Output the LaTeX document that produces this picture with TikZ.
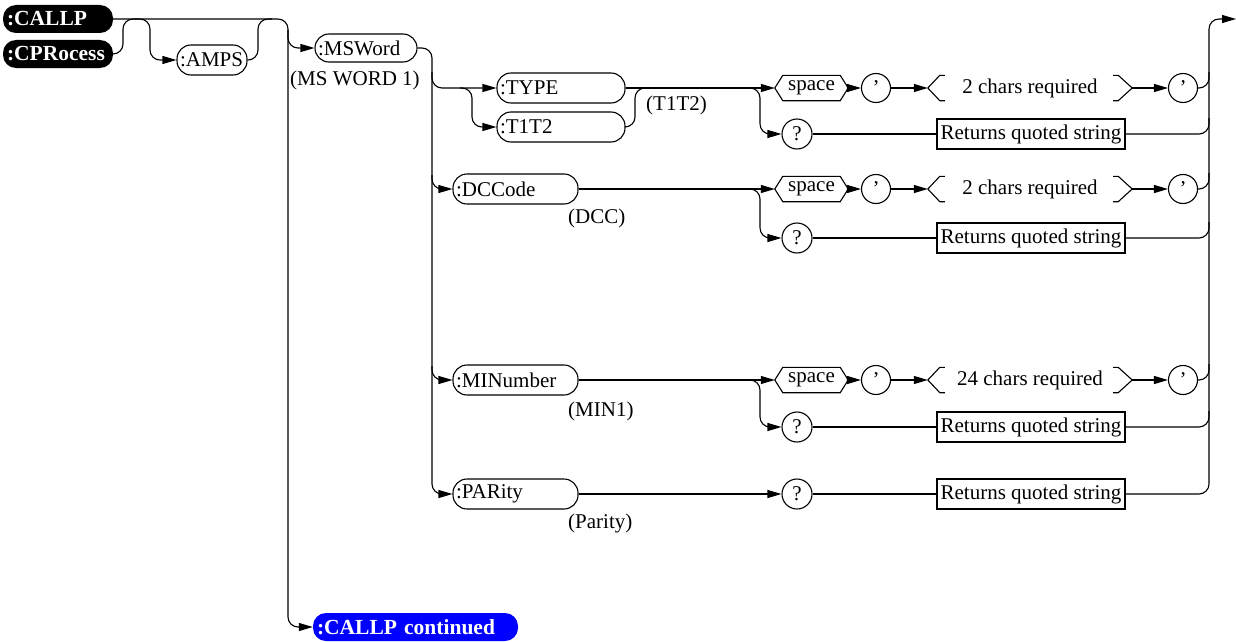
\documentclass[tikz,border=0pt]{standalone}
\usepackage{fontspec}
\setmainfont{Liberation Serif}
\usetikzlibrary{arrows.meta}
\tikzset{
  every node/.style={font=\fontsize{21pt}{24pt}\selectfont, inner sep=0pt},
  conn/.style={draw, line width=1.1pt, rounded corners=10pt},
  arr/.style={-{Triangle[length=14pt,width=8pt]}},
  wpill/.style={draw, line width=1.1pt, rounded corners=14pt, minimum height=30pt, inner xsep=3pt, align=left},
  bpill/.style={fill=black, text=white, font=\fontsize{21.5pt}{24pt}\selectfont\bfseries, rounded corners=13pt, minimum height=28pt, inner xsep=4pt, align=left},
  circ/.style={draw, circle, line width=1.1pt, minimum size=29pt},
  qbox/.style={draw, line width=1.1pt, minimum height=30pt, minimum width=188pt},
  hexn/.style={minimum width=73pt, minimum height=25pt},
  reqn/.style={minimum width=204pt, minimum height=25pt},
}
\newcommand\hexdraw[1]{\draw[line width=1.1pt] (#1.west) -- ([xshift=8pt]#1.north west) -- ([xshift=-8pt]#1.north east) -- (#1.east) -- ([xshift=-8pt]#1.south east) -- ([xshift=8pt]#1.south west) -- cycle;}
\newcommand\brdraw[1]{\draw[line width=1.1pt] ([xshift=17pt]#1.north west) -- ([xshift=12pt]#1.north west) -- (#1.west) -- ([xshift=12pt]#1.south west) -- ([xshift=17pt]#1.south west);
\draw[line width=1.1pt] ([xshift=-19pt]#1.north east) -- ([xshift=-14pt]#1.north east) -- (#1.east) -- ([xshift=-14pt]#1.south east) -- ([xshift=-19pt]#1.south east);}
\begin{document}
\begin{tikzpicture}[x=1pt,y=-1pt]
\useasboundingbox (0,0) rectangle (1236,642);
% left part
\node[bpill, text width=102pt] (callp) at (58,19) {:CALLP};
\node[bpill, text width=102pt] (cpr) at (58,54) {:CPRocess};
\node[wpill, text width=64pt] (amps) at (212,60) {:AMPS};
\node[wpill, text width=96pt, minimum height=28pt] (msword) at (366,48) {:MSWord};
\node[anchor=west] (lms) at (290,80) {(MS WORD 1)};
\node[bpill, fill=blue, text width=197pt] (cont) at (415.5,627) {:CALLP continued};
% option pills
\node[wpill, text width=122pt] (type) at (561,88) {:TYPE};
\node[wpill, text width=122pt] (t1t2) at (561,127) {:T1T2};
\node[anchor=west] (lt) at (646,105) {(T1T2)};
\node[wpill, text width=119pt] (dcc) at (515.5,189) {:DCCode};
\node[anchor=west] (ldcc) at (568,218) {(DCC)};
\node[wpill, text width=119pt] (min) at (515.5,380) {:MINumber};
\node[anchor=west] (lmin) at (568,411) {(MIN1)};
\node[wpill, text width=119pt] (parity) at (515.5,494) {:PARity};
\node[anchor=west] (lpar) at (568,523) {(Parity)};
\coordinate (exit) at (1236,19);
% rows
\foreach \n/\src/\y/\yq/\t in {1/type/88/134/2, 2/dcc/189/238/2, 3/min/380/427/24}{
  \node[hexn] (sp\n) at (811.5,\y) {space};
  \hexdraw{sp\n}
  \node[circ] (a\n) at (876,\y) {’};
  \node[reqn] (r\n) at (1030,\y) {\t\ chars required};
  \brdraw{r\n}
  \node[circ] (b\n) at (1183,\y) {’};
  \node[circ, minimum size=30pt] (q\n) at (797,\yq) {?};
  \node[qbox] (box\n) at (1031,\yq) {Returns quoted string};
  \draw[conn,arr] (\src.east) -- (sp\n.west);
  \draw[conn,arr] (746,\y) -- (760,\y) -- (760,\yq) -- (q\n.west);
  \draw[conn,arr] (sp\n.east) -- (a\n.west);
  \draw[conn,arr] (a\n.east) -- (r\n.west);
  \draw[conn,arr] (r\n.east) -- (b\n.west);
  \draw[conn] (b\n.east) -- (1209,\y) -- (1209,\y-16);
  \draw[conn] (q\n.east) -- (box\n.west);
  \draw[conn] (box\n.east) -- (1209,\yq) -- (1209,\yq-16);
}
\node[circ, minimum size=30pt] (q4) at (797,494) {?};
\node[qbox] (box4) at (1031,494) {Returns quoted string};
\draw[conn,arr] (parity.east) -- (q4.west);
\draw[conn] (q4.east) -- (box4.west);
\draw[conn,arr] (box4.east) -- (1209,494) -- (1209,19) -- (exit);
% connectors left
\draw[conn,arr] (callp.east) -- (288,19) -- (288,627) -- (cont.west);
\draw[conn,arr] (cpr.east) -- (123,54) -- (123,19) -- (150,19) -- (150,60) -- (amps.west);
\draw[conn] (amps.east) -- (258,60) -- (258,19) -- (272,19);
\coordinate (j1) at (288,30);
\draw[conn,arr] (j1) |- (msword.west);
\draw[conn,arr] (msword.east) -| (432,494) -- (parity.west);
\coordinate (j2) at (432,72);
\draw[conn,arr] (j2) |- (type.west);
\coordinate (j3) at (432,175);
\draw[conn,arr] (j3) |- (dcc.west);
\coordinate (j4) at (432,366);
\draw[conn,arr] (j4) |- (min.west);
\coordinate (j5) at (460,88);
\draw[conn,arr] (j5) -- (472,88) -- (472,127) -- (t1t2.west);
\draw[conn] (t1t2.east) -- (635,127) -- (635,88) -- (648,88);
\end{tikzpicture}
\end{document}
